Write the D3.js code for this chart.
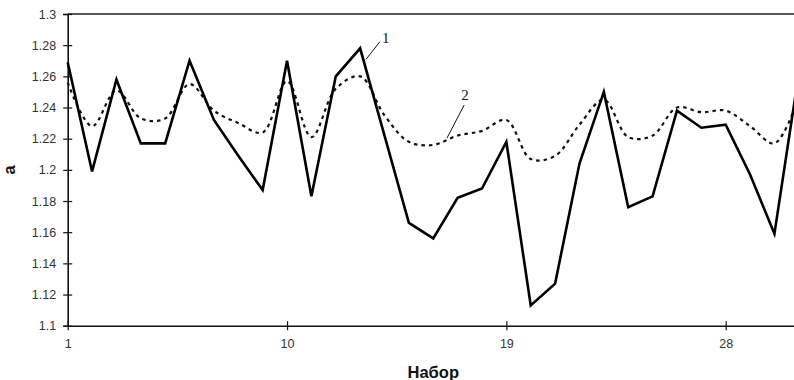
<!DOCTYPE html>
<html>
<head>
<meta charset="utf-8">
<script src="https://cdn.jsdelivr.net/npm/d3@7/dist/d3.min.js"></script>
<style>
  body { margin: 0; background: #fff; }
  svg { display: block; font-family: "Liberation Sans", Arial, sans-serif; }
</style>
</head>
<body>
<div id="chart"></div>
<script>
// sample number (Набор) 1..31
var sets = d3.range(1, 32);
// curve 1 (solid)
var series1 = [1.269, 1.199, 1.258, 1.217, 1.217, 1.270, 1.232, 1.209, 1.187, 1.270,
               1.183, 1.260, 1.278, 1.222, 1.166, 1.156, 1.182, 1.188, 1.218, 1.113,
               1.127, 1.204, 1.250, 1.176, 1.183, 1.238, 1.227, 1.229, 1.197, 1.159, 1.262];
// curve 2 (dashed, smoothed)
var series2 = [1.256, 1.228, 1.251, 1.233, 1.233, 1.255, 1.238, 1.230, 1.224, 1.257,
               1.221, 1.252, 1.260, 1.235, 1.218, 1.216, 1.222, 1.225, 1.232, 1.207,
               1.209, 1.229, 1.245, 1.221, 1.222, 1.240, 1.237, 1.238, 1.228, 1.217, 1.247];
var xTicks = [1, 10, 19, 28];
var yTicks = d3.range(1.1, 1.3001, 0.02);

var width = 794, height = 380;
var margin = {top: 14, left: 67.7, bottom: 380 - 325.7};
var plotRight = 798.8;

var svg = d3.select("#chart").append("svg")
    .attr("width", width)
    .attr("height", height);

var x = d3.scaleLinear().domain([1, 31]).range([margin.left, plotRight]);
var y = d3.scaleLinear().domain([1.1, 1.3]).range([height - margin.bottom, margin.top]);

// top frame line
svg.append("line")
    .attr("x1", x(1)).attr("x2", width)
    .attr("y1", y(1.3)).attr("y2", y(1.3))
    .attr("stroke", "#222").attr("stroke-width", 1.3);

// y axis with crossing ticks
var yAxis = svg.append("g")
    .attr("transform", "translate(" + x(1) + ",0)")
    .call(d3.axisLeft(y).tickValues(yTicks).tickSize(4.5).tickPadding(7)
      .tickFormat(function(d) { return d3.format("")(+d.toFixed(2)); }));
yAxis.select(".domain").attr("stroke", "#111").attr("stroke-width", 1.6);
yAxis.selectAll(".tick line").attr("x2", 4.5).attr("x1", -4.5).attr("stroke", "#111").attr("stroke-width", 1.2);
yAxis.selectAll(".tick text").attr("font-size", 12.5).attr("fill", "#333")
    .attr("font-family", "'Liberation Sans', Arial, sans-serif");

// x axis
var xAxis = svg.append("g")
    .attr("transform", "translate(0," + y(1.1) + ")")
    .call(d3.axisBottom(x).tickValues(xTicks).tickSize(4.5).tickPadding(9).tickSizeOuter(0));
xAxis.select(".domain").attr("stroke", "#111").attr("stroke-width", 1.6);
xAxis.selectAll(".tick line").attr("y1", -4.5).attr("y2", 4.5).attr("stroke", "#111").attr("stroke-width", 1.2);
xAxis.selectAll(".tick text").attr("font-size", 12.5).attr("fill", "#333")
    .attr("font-family", "'Liberation Sans', Arial, sans-serif");

// axis titles
svg.append("text")
    .attr("x", (x(1) + plotRight) / 2)
    .attr("y", 378)
    .attr("text-anchor", "middle")
    .attr("font-weight", "bold")
    .attr("font-size", 16.5)
    .attr("fill", "#111")
    .text("Набор");

svg.append("text")
    .attr("transform", "translate(14.5," + y(1.2) + ") rotate(-90)")
    .attr("text-anchor", "middle")
    .attr("font-weight", "bold")
    .attr("font-size", 16.5)
    .attr("fill", "#111")
    .text("a");

// lines
var line1 = d3.line()
    .x(function(d, i) { return x(sets[i]); })
    .y(function(d) { return y(d); });

var line2 = d3.line()
    .x(function(d, i) { return x(sets[i]); })
    .y(function(d) { return y(d); })
    .curve(d3.curveCatmullRom.alpha(0.5));

svg.append("path")
    .datum(series2)
    .attr("d", line2)
    .attr("fill", "none")
    .attr("stroke", "#111")
    .attr("stroke-width", 2.2)
    .attr("stroke-dasharray", "3.5,4");

svg.append("path")
    .datum(series1)
    .attr("d", line1)
    .attr("fill", "none")
    .attr("stroke", "#000")
    .attr("stroke-width", 2.6)
    .attr("stroke-linejoin", "miter");

// curve labels with leader lines
var labels = [
  {text: "1", lx: 14.05, ly: 1.2812, x1: 13.81, y1: 1.2822, x2: 13.24, y2: 1.2709},
  {text: "2", lx: 17.3, ly: 1.2445, x1: 17.27, y1: 1.2416, x2: 16.56, y2: 1.2203}
];
labels.forEach(function(l) {
  svg.append("line")
      .attr("x1", x(l.x1)).attr("y1", y(l.y1))
      .attr("x2", x(l.x2)).attr("y2", y(l.y2))
      .attr("stroke", "#111").attr("stroke-width", 1);
  svg.append("text")
      .attr("x", x(l.lx))
      .attr("y", y(l.ly))
      .attr("text-anchor", "middle")
      .attr("font-family", "'Liberation Serif', 'Times New Roman', serif")
      .attr("font-size", 15)
      .attr("fill", "#111")
      .text(l.text);
});
</script>
</body>
</html>
